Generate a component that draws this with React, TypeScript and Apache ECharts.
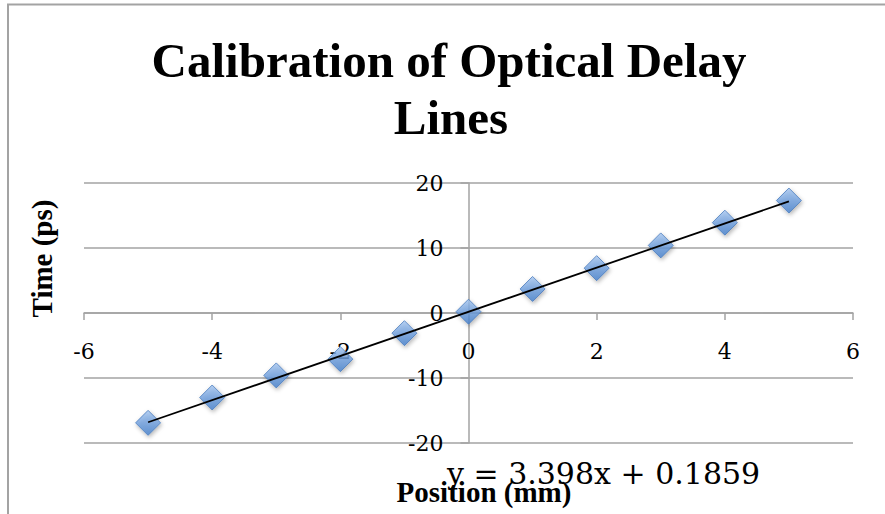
import React, { useEffect, useRef } from "react";
import * as echarts from "echarts";

// Stage position (mm) against measured delay (ps)
const positions = [-5, -4, -3, -2, -1, 0, 1, 2, 3, 4, 5];
const times = [-16.9, -13.0, -9.6, -7.1, -3.1, 0.2, 3.7, 6.9, 10.4, 13.9, 17.3];

// Axis tick values
const xTicks = [-6, -4, -2, 0, 2, 4, 6];
const yTicks = [-20, -10, 0, 10, 20];

// Linear trendline coefficients
const slope = 3.398;
const intercept = 0.1859;

const titleLines = ["Calibration of Optical Delay", "Lines"];
const xTitle = "Position (mm)";
const yTitle = "Time (ps)";

const GRAY = "#a3a3a3";
const SERIF_BOLD = "'Liberation Serif', 'Times New Roman', serif";
const LABEL_FONT = "'DejaVu Serif', serif";

// Plot rectangle inside the 885x514 canvas
const GRID = { left: 84, right: 32, top: 183, bottom: 71 };
const CANVAS_W = 885;
const CANVAS_H = 514;

export default function App() {
  const ref = useRef<HTMLDivElement>(null);

  useEffect(() => {
    if (!ref.current) return;
    const chart = echarts.init(ref.current, undefined, { renderer: "svg" });

    const points = positions.map((x, i) => [x, times[i]]);
    const xFirst = positions[0];
    const xLast = positions[positions.length - 1];
    const trend = [
      [xFirst, slope * xFirst + intercept],
      [xLast, slope * xLast + intercept],
    ];
    const equation = `y = ${slope}x + ${intercept}`;

    // The axis lines sit on the zero of the other axis; their labels are
    // shifted inward from the plot edge by the same distance.
    const xMin = xTicks[0];
    const xMax = xTicks[xTicks.length - 1];
    const yMin = yTicks[0];
    const yMax = yTicks[yTicks.length - 1];
    const plotW = CANVAS_W - GRID.left - GRID.right;
    const plotH = CANVAS_H - GRID.top - GRID.bottom;
    const zeroFromLeft = ((0 - xMin) / (xMax - xMin)) * plotW;
    const zeroFromBottom = ((0 - yMin) / (yMax - yMin)) * plotH;

    chart.setOption({
      animation: false,
      backgroundColor: "#ffffff",
      grid: { ...GRID, containLabel: false },
      xAxis: {
        type: "value",
        min: xMin,
        max: xMax,
        interval: xTicks[1] - xTicks[0],
        axisLine: { show: true, onZero: true, lineStyle: { color: GRAY, width: 1.5 } },
        axisTick: { show: true, inside: false, length: 7, lineStyle: { color: GRAY, width: 1.5 } },
        splitLine: { show: false },
        axisLabel: {
          margin: 27 - zeroFromBottom,
          color: "#000",
          fontFamily: LABEL_FONT,
          fontSize: 22,
        },
      },
      yAxis: {
        type: "value",
        min: yMin,
        max: yMax,
        interval: yTicks[1] - yTicks[0],
        axisLine: { show: true, onZero: true, lineStyle: { color: GRAY, width: 1.5 } },
        axisTick: { show: true, inside: false, length: 8, lineStyle: { color: GRAY, width: 1.5 } },
        splitLine: { show: true, lineStyle: { color: GRAY, width: 1.5 } },
        axisLabel: {
          margin: 25 - zeroFromLeft,
          color: "#000",
          fontFamily: LABEL_FONT,
          fontSize: 22,
        },
      },
      series: [
        {
          type: "scatter",
          data: points,
          symbol: "diamond",
          symbolSize: 25,
          z: 2,
          itemStyle: {
            color: {
              type: "linear",
              x: 0,
              y: 0,
              x2: 0,
              y2: 1,
              colorStops: [
                { offset: 0, color: "#a4c5f0" },
                { offset: 0.5, color: "#70a0de" },
                { offset: 1, color: "#4580cc" },
              ],
            },
            borderColor: "#4a7cbd",
            borderWidth: 1,
            shadowBlur: 4,
            shadowColor: "rgba(0,0,0,0.35)",
            shadowOffsetX: 1,
            shadowOffsetY: 2,
          },
        },
        {
          type: "line",
          data: trend,
          showSymbol: false,
          symbol: "none",
          z: 3,
          lineStyle: { color: "#000", width: 1.8 },
        },
      ],
      graphic: [
        {
          type: "polyline",
          silent: true,
          shape: { points: [[8, 520], [8, 4.5], [890, 4.5]] },
          style: { fill: "none", stroke: GRAY, lineWidth: 2 },
        },
        {
          type: "text",
          x: 449,
          y: 60.5,
          style: {
            text: titleLines[0],
            font: `bold 49px ${SERIF_BOLD}`,
            fill: "#000",
            align: "center",
            verticalAlign: "middle",
          },
        },
        {
          type: "text",
          x: 451,
          y: 117.5,
          style: {
            text: titleLines[1],
            font: `bold 49px ${SERIF_BOLD}`,
            fill: "#000",
            align: "center",
            verticalAlign: "middle",
          },
        },
        {
          type: "text",
          x: 42,
          y: 258.5,
          rotation: Math.PI / 2,
          style: {
            text: yTitle,
            font: `bold 29px ${SERIF_BOLD}`,
            fill: "#000",
            align: "center",
            verticalAlign: "middle",
          },
        },
        {
          type: "text",
          x: 484,
          y: 492,
          z: 10,
          style: {
            text: xTitle,
            font: `bold 29px ${SERIF_BOLD}`,
            fill: "#000",
            align: "center",
            verticalAlign: "middle",
          },
        },
        {
          type: "text",
          x: 447,
          y: 473,
          z: 11,
          style: {
            text: equation,
            font: `30px ${LABEL_FONT}`,
            fill: "#000",
            align: "left",
            verticalAlign: "middle",
          },
        },
      ],
    });

    return () => chart.dispose();
  }, []);

  return (
    <div
      ref={ref}
      style={{ position: "fixed", left: 0, top: 0, width: CANVAS_W, height: CANVAS_H }}
    />
  );
}
